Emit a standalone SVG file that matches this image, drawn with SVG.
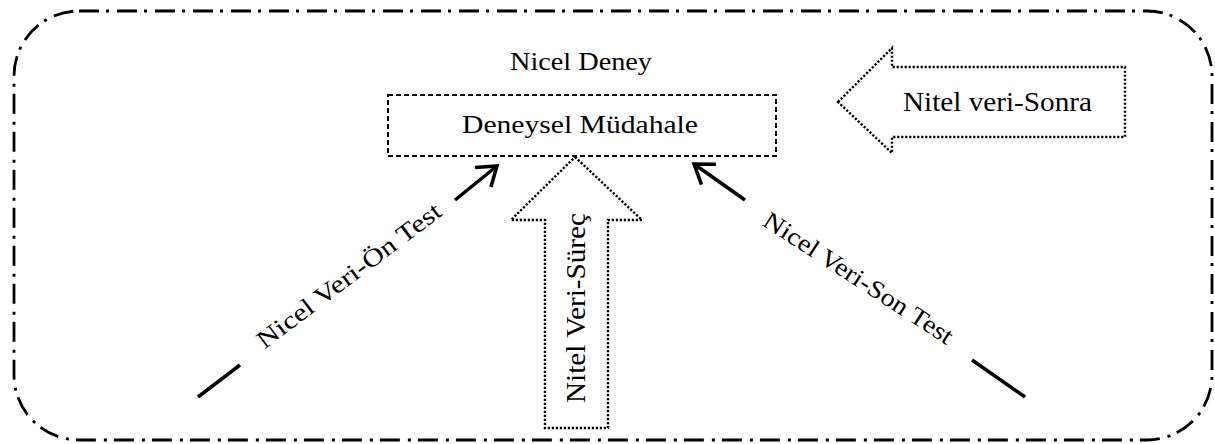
<svg xmlns="http://www.w3.org/2000/svg" width="1215" height="444" viewBox="0 0 1215 444">
<style>
  .txt { font-family: "Liberation Serif", "DejaVu Serif", serif; fill: #000; }
  .frame { fill: none; stroke: #000; stroke-width: 2.8; stroke-dasharray: 20 7 3 8; }
  .dashed { fill: none; stroke: #000; stroke-width: 2; stroke-dasharray: 5 3; }
  .dotted { fill: none; stroke: #000; stroke-width: 2.4; stroke-dasharray: 2.2 1.8; }
  .conn { fill: none; stroke: #000; stroke-width: 3.5; }
</style>
<defs>
  <marker id="open" markerUnits="userSpaceOnUse" markerWidth="40" markerHeight="40" viewBox="-25 -20 30 40" refX="0" refY="0" orient="auto">
    <path d="M-18,-12.5 L0,0 L-18,12.5" fill="none" stroke="#000" stroke-width="3.5" stroke-linejoin="miter"/>
  </marker>
</defs>
<rect width="1215" height="444" fill="#fff"/>

<g id="frame">
  <rect class="frame" x="14" y="11" width="1198" height="429" rx="65" ry="65"/>
</g>

<g id="title">
  <text class="txt" x="581" y="70" font-size="25" text-anchor="middle" textLength="142" lengthAdjust="spacingAndGlyphs">Nicel Deney</text>
</g>

<g id="deneysel-mudahale">
  <rect class="dashed" x="388" y="95" width="388" height="61"/>
  <text class="txt" x="580" y="133" font-size="25" text-anchor="middle" textLength="236" lengthAdjust="spacingAndGlyphs">Deneysel Müdahale</text>
</g>

<g id="nitel-veri-sonra">
  <path class="dotted" d="M838,102 L892,48 L892,67 L1125,67 L1125,137 L892,137 L892,153 Z"/>
  <text class="txt" x="997.5" y="111" font-size="28" text-anchor="middle" textLength="189" lengthAdjust="spacingAndGlyphs">Nitel veri-Sonra</text>
</g>

<g id="nitel-veri-surec">
  <path class="dotted" d="M575,157 L642,220 L608,220 L608,428 L545,428 L545,220 L511,220 Z"/>
  <text class="txt" transform="translate(585,308) rotate(-90)" x="0" y="0" font-size="27" text-anchor="middle" textLength="190" lengthAdjust="spacingAndGlyphs">Nitel Veri-Süreç</text>
</g>

<g id="connectors">
  <line class="conn" x1="198" y1="397" x2="240" y2="365"/>
  <line class="conn" x1="455" y1="200" x2="497" y2="166" marker-end="url(#open)"/>
  <line class="conn" x1="1025" y1="397" x2="972" y2="360"/>
  <line class="conn" x1="745" y1="200" x2="694" y2="164" marker-end="url(#open)"/>
</g>

<g id="nicel-veri-on-test">
  <text class="txt" transform="translate(354,282) rotate(-37)" x="0" y="0" font-size="25" text-anchor="middle" textLength="224" lengthAdjust="spacingAndGlyphs">Nicel Veri-Ön Test</text>
</g>

<g id="nicel-veri-son-test">
  <text class="txt" transform="translate(854,285) rotate(33)" x="0" y="0" font-size="25" text-anchor="middle" textLength="221" lengthAdjust="spacingAndGlyphs">Nicel Veri-Son Test</text>
</g>
</svg>
